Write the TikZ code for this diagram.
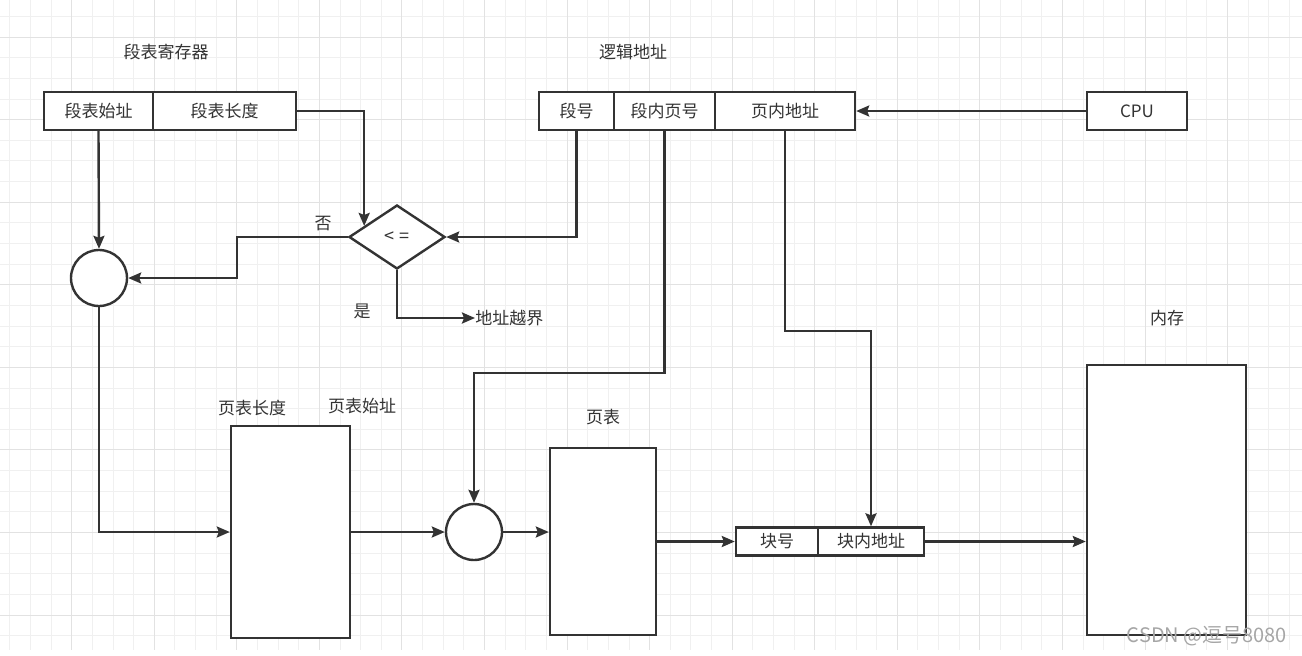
\documentclass[tikz,border=0pt]{standalone}
\usepackage{fontspec}
\setmainfont{Noto Sans CJK SC}
\usepackage{tikz}
\usetikzlibrary{shapes.geometric,arrows.meta,positioning,calc}
\usepackage{xcolor}
\definecolor{inkgrey}{HTML}{333333}
\definecolor{gridminor}{HTML}{F0F0F0}
\definecolor{gridmajor}{HTML}{E2E2E2}

\begin{document}
\begin{tikzpicture}[x=0.5pt, y=-0.5pt,
    cell/.style={rectangle, draw=inkgrey, line width=1.2pt, fill=white,
        minimum height=19pt, inner sep=0pt, font=\fontsize{8.5pt}{10pt}\selectfont, text=inkgrey},
    bigbox/.style={rectangle, draw=inkgrey, line width=1.2pt, fill=white, inner sep=0pt},
    adder/.style={circle, draw=inkgrey, line width=1.2pt, fill=white,
        minimum size=28pt, inner sep=0pt},
    cmpbox/.style={diamond, draw=inkgrey, line width=1.2pt, fill=white, aspect=1.5,
        minimum width=48pt, minimum height=32pt, inner sep=0pt,
        font=\fontsize{9pt}{10pt}\selectfont, text=inkgrey},
    lbl/.style={font=\fontsize{8.5pt}{10pt}\selectfont, text=inkgrey, inner sep=0pt},
    arr/.style={-{Stealth[length=6.5pt, width=5.5pt, inset=1pt]}, line width=1.2pt, inkgrey}
]
    \useasboundingbox (0,0) rectangle (1302,655);
    \fill[white] (0,0) rectangle (1302,655);
    \foreach \k in {0,...,62}
        \draw[gridminor, line width=0.5pt] ({9.8+20.64*\k},0) -- ++(0,650);
    \foreach \k in {0,...,30}
        \draw[gridminor, line width=0.5pt] (0,{16.5+20.64*\k}) -- ++(1302,0);
    \foreach \k in {3,7,...,63}
        \draw[gridmajor, line width=0.5pt] ({9.8+20.64*\k},0) -- ++(0,650);
    \foreach \k in {1,5,...,29}
        \draw[gridmajor, line width=0.5pt] (0,{16.5+20.64*\k}) -- ++(1302,0);

    \node[lbl] (regtitle) at (166,52) {段表寄存器};
    \node[cell, minimum width=54.5pt] (start) at (98.5,111) {段表始址};
    \node[cell, minimum width=71.5pt] (len) at (224.5,111) {段表长度};

    \node[lbl] (addrtitle) at (633,52) {逻辑地址};
    \node[cell, minimum width=37.5pt] (segno) at (576.5,111) {段号};
    \node[cell, minimum width=50.5pt] (pageno) at (664.5,111) {段内页号};
    \node[cell, minimum width=70pt] (offset) at (785,111) {页内地址};
    \node[cell, minimum width=50pt] (cpu) at (1137,111) {CPU};

    \node[cmpbox] (cmp) at (397,237) {< =};
    \node[adder] (add1) at (99,278) {};
    \node[lbl] (no) at (323,224) {否};
    \node[lbl] (yes) at (362,311) {是};
    \node[lbl, anchor=west] (ovf) at (475,318) {地址越界};

    \node[bigbox, minimum width=59.5pt, minimum height=106pt] (segtab) at (290.5,532) {};
    \node[lbl] (ptlen) at (252,408) {页表长度};
    \node[lbl] (ptstart) at (362,406) {页表始址};
    \node[adder] (add2) at (474,532) {};
    \node[bigbox, minimum width=53pt, minimum height=93.5pt] (ptab) at (603,541.5) {};
    \node[lbl] (ptitle) at (603,417) {页表};

    \node[cell, minimum width=41pt, minimum height=14pt] (blkno) at (777,541.5) {块号};
    \node[cell, minimum width=53pt, minimum height=14pt] (blkoff) at (871,541.5) {块内地址};

    \node[bigbox, minimum width=79.5pt, minimum height=135pt] (mem) at (1166.5,500) {};
    \node[lbl] (memtitle) at (1167,318) {内存};

    \draw[arr] (cpu.west) -- (offset.east);
    \draw[arr] (len.east) -| ($(cmp.north)!0.667!(cmp.west)$);
    \draw[arr] (segno.south) |- (cmp.east);
    \draw[arr] (cmp.west) -- ++(-111,0) |- (add1.east);
    \draw[arr] (start.south) -- (add1.north);
    \draw[arr] (cmp.south) |- (ovf.west);
    \draw[arr] (add1.south) |- (segtab.west);
    \draw[arr] (segtab.east) -- (add2.west);
    \draw[arr] (pageno.south) -- ++(0,242) -| (add2.north);
    \draw[arr] (add2.east) -- (add2.east -| ptab.west);
    \draw[arr] (ptab.east) -- (blkno.west);
    \draw[arr] (offset.south) -- ++(0,200) -| (blkoff.north);
    \draw[arr] (blkoff.east) -- (blkoff.east -| mem.west);

    \node[font=\fontsize{10pt}{12pt}\selectfont, text=black!35, inner sep=0pt] (mark) at (1207,636) {CSDN @逗号8080};
\end{tikzpicture}
\end{document}
